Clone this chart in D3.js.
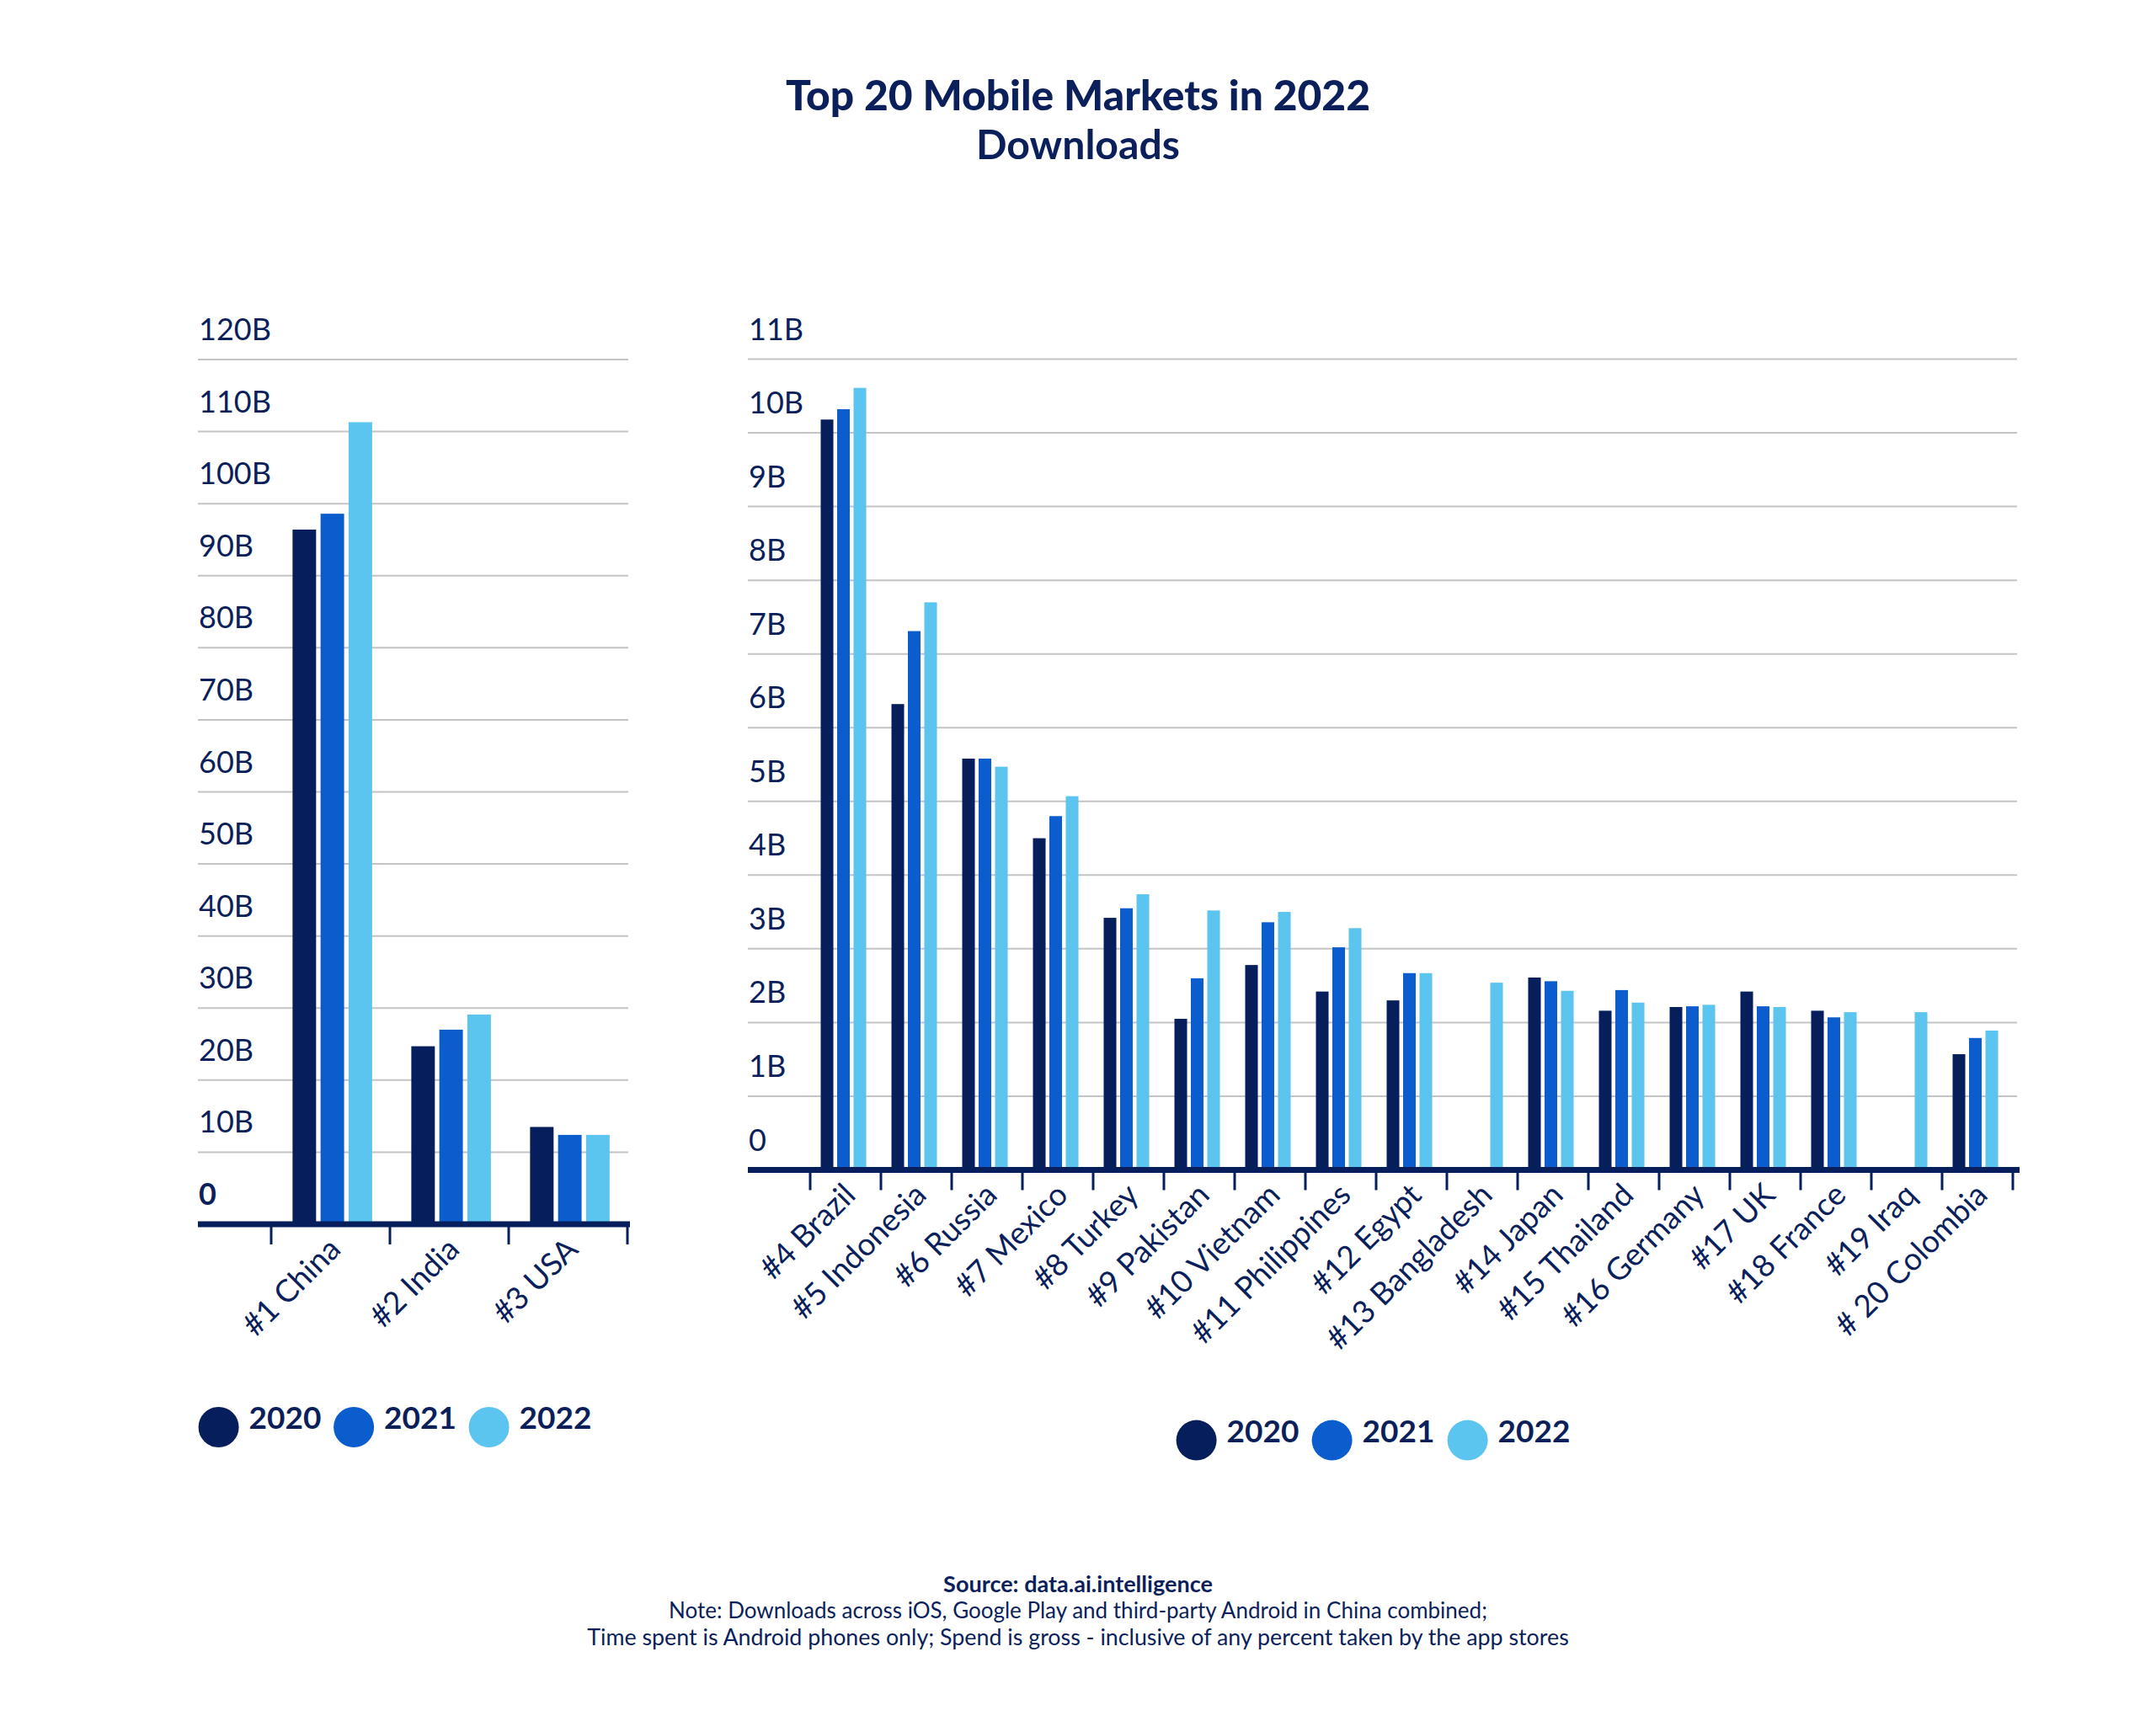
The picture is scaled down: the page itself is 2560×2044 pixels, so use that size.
<!DOCTYPE html>
<html>
<head>
<meta charset="utf-8">
<script src="https://cdn.jsdelivr.net/npm/d3@7"></script>
<style>
  html, body { margin: 0; padding: 0; background: #ffffff; }
  svg { display: block; }
</style>
</head>
<body>
<svg id="chart" width="2560" height="2044"></svg>
<script>
// ---------------- DATA ----------------
const years = ["2020", "2021", "2022"];

const leftCategories = ["#1 China", "#2 India", "#3 USA"];
const left2020 = [96.4, 24.7, 13.5];
const left2021 = [98.6, 27.0, 12.4];
const left2022 = [111.3, 29.1, 12.4];
const leftTicks = [0, 10, 20, 30, 40, 50, 60, 70, 80, 90, 100, 110, 120];

const rightCategories = ["#4 Brazil", "#5 Indonesia", "#6 Russia", "#7 Mexico", "#8 Turkey",
  "#9 Pakistan", "#10 Vietnam", "#11 Philippines", "#12 Egypt", "#13 Bangladesh", "#14 Japan",
  "#15 Thailand", "#16 Germany", "#17 UK", "#18 France", "#19 Iraq", "# 20 Colombia"];
const right2020 = [10.18, 6.32, 5.58, 4.50, 3.42, 2.05, 2.78, 2.42, 2.30, null, 2.61, 2.16, 2.21, 2.42, 2.16, null, 1.57];
const right2021 = [10.32, 7.31, 5.58, 4.80, 3.55, 2.60, 3.36, 3.02, 2.67, null, 2.56, 2.44, 2.22, 2.22, 2.07, null, 1.79];
const right2022 = [10.61, 7.70, 5.47, 5.07, 3.74, 3.52, 3.50, 3.28, 2.67, 2.54, 2.43, 2.27, 2.24, 2.21, 2.14, 2.14, 1.89];
const rightTicks = [0, 1, 2, 3, 4, 5, 6, 7, 8, 9, 10, 11];

const titleText = "Top 20 Mobile Markets in 2022";
const subtitleText = "Downloads";
const sourceText = "Source: data.ai.intelligence";
const noteLines = [
  "Note: Downloads across iOS, Google Play and third-party Android in China combined;",
  "Time spent is Android phones only; Spend is gross - inclusive of any percent taken by the app stores"
];

// ---------------- STYLE ----------------
const NAVY_TEXT = "#0b1f5b";
const COLORS = { "2020": "#061f5c", "2021": "#0b5ccc", "2022": "#5bc4ef" };
const GRID = "#c4c4c4";
const FONT = "Lato, 'Noto Sans', sans-serif";

const svg = d3.select("#chart");

function fitWidth(sel, target) {
  const w = sel.node().getComputedTextLength();
  const fs = parseFloat(sel.attr("font-size"));
  sel.attr("font-size", (fs * target / w).toFixed(2));
}

// ---------------- TITLE ----------------
const t1 = svg.append("text").attr("x", 1280).attr("y", 131).attr("text-anchor", "middle")
  .attr("font-family", FONT).attr("font-weight", 900).attr("font-size", 52)
  .attr("fill", NAVY_TEXT).text(titleText);
fitWidth(t1, 694);
const t2 = svg.append("text").attr("x", 1280).attr("y", 189).attr("text-anchor", "middle")
  .attr("font-family", FONT).attr("font-weight", 700).attr("font-size", 46)
  .attr("fill", NAVY_TEXT).text(subtitleText);
fitWidth(t2, 242);

// ---------------- PANEL ----------------
function drawPanel(cfg) {
  const g = svg.append("g");
  const series = years.map((yr, i) => ({ year: yr, values: cfg.values[i] }));

  const y = d3.scaleLinear().domain([0, d3.max(cfg.ticks)]).range(cfg.yRange);
  const x0 = d3.scaleBand().domain(cfg.categories).range(cfg.bandRange).padding(0);
  const bw = x0.bandwidth();
  const x1 = d3.scaleBand().domain(years)
    .range([bw * cfg.group[0], bw * cfg.group[1]]).paddingInner(cfg.innerPad);

  // gridlines
  g.append("g").selectAll("line").data(cfg.ticks.filter(d => d > 0)).join("line")
    .attr("x1", cfg.gridX[0]).attr("x2", cfg.gridX[1])
    .attr("y1", d => y(d)).attr("y2", d => y(d))
    .attr("stroke", GRID).attr("stroke-width", 2);

  // y tick labels (above gridlines)
  g.append("g").selectAll("text").data(cfg.ticks).join("text")
    .attr("x", cfg.gridX[0] + 1)
    .attr("y", d => y(d) - 23)
    .attr("font-family", FONT).attr("font-size", 36)
    .attr("font-weight", d => (d === 0 && cfg.boldZero) ? 700 : 400)
    .attr("fill", NAVY_TEXT)
    .text(d => d === 0 ? "0" : d + "B");

  // bars
  const rows = cfg.categories.map((c, ci) => ({ cat: c, items: series.map(s => ({ year: s.year, v: s.values[ci] })) }));
  const grp = g.append("g").selectAll("g").data(rows).join("g")
    .attr("transform", d => `translate(${x0(d.cat)},0)`);
  grp.selectAll("rect").data(d => d.items.filter(it => it.v != null)).join("rect")
    .attr("x", d => x1(d.year))
    .attr("width", x1.bandwidth())
    .attr("y", d => y(d.v))
    .attr("height", d => y(0) - y(d.v))
    .attr("fill", d => COLORS[d.year]);

  // axis line
  const y0 = y(0);
  g.append("line").attr("x1", cfg.gridX[0]).attr("x2", cfg.axisEnd)
    .attr("y1", y0).attr("y2", y0)
    .attr("stroke", COLORS["2020"]).attr("stroke-width", 7);

  // ticks at band boundaries
  const bounds = cfg.categories.map(c => x0(c)).concat([x0.range()[1]]);
  g.append("g").selectAll("line").data(bounds).join("line")
    .attr("x1", d => d).attr("x2", d => d)
    .attr("y1", y0).attr("y2", y0 + 24)
    .attr("stroke", COLORS["2020"]).attr("stroke-width", 3);

  // category labels, rotated
  g.append("g").selectAll("text").data(cfg.categories).join("text")
    .attr("transform", d => `translate(${x0(d) + bw / 2 + cfg.labelDx},${y0 + cfg.labelDy}) rotate(-45)`)
    .attr("text-anchor", "end")
    .attr("font-family", FONT).attr("font-size", 37)
    .attr("fill", NAVY_TEXT)
    .text(d => d);

  // legend
  const lg = g.append("g").attr("transform", `translate(${cfg.legend[0]},${cfg.legend[1]})`);
  const li = lg.selectAll("g").data(years).join("g")
    .attr("transform", (d, i) => `translate(${i * cfg.legendStep},0)`);
  li.append("circle").attr("r", 24).attr("fill", d => COLORS[d]);
  li.append("text").attr("x", 36).attr("y", 2)
    .attr("font-family", FONT).attr("font-weight", 700).attr("font-size", 37)
    .attr("fill", NAVY_TEXT).text(d => d);
}

drawPanel({
  categories: leftCategories,
  values: [left2020, left2021, left2022],
  ticks: leftTicks,
  boldZero: true,
  yRange: [1454, 427],
  gridX: [235, 746],
  axisEnd: 748,
  bandRange: [322, 745],
  group: [0.18, 0.85],
  innerPad: 0.16,
  labelDx: 14,
  labelDy: 32,
  legend: [259.6, 1695],
  legendStep: 160.5
});

drawPanel({
  categories: rightCategories,
  values: [right2020, right2021, right2022],
  ticks: rightTicks,
  boldZero: false,
  yRange: [1389.5, 426.5],
  gridX: [888, 2395],
  axisEnd: 2398,
  bandRange: [962, 2390],
  group: [0.149, 0.792],
  innerPad: 0.23,
  labelDx: 14,
  labelDy: 32,
  legend: [1420.6, 1710.6],
  legendStep: 161
});

// ---------------- FOOTER ----------------
const s1 = svg.append("text").attr("x", 1280).attr("y", 1891).attr("text-anchor", "middle")
  .attr("font-family", FONT).attr("font-weight", 700).attr("font-size", 26)
  .attr("fill", NAVY_TEXT).text(sourceText);
fitWidth(s1, 320);
noteLines.forEach((line, i) => {
  const t = svg.append("text").attr("x", 1280).attr("y", 1922 + i * 32).attr("text-anchor", "middle")
    .attr("font-family", FONT).attr("font-size", 26)
    .attr("fill", NAVY_TEXT).text(line);
  if (i === 1) fitWidth(t, 1166);
});
</script>
</body>
</html>
